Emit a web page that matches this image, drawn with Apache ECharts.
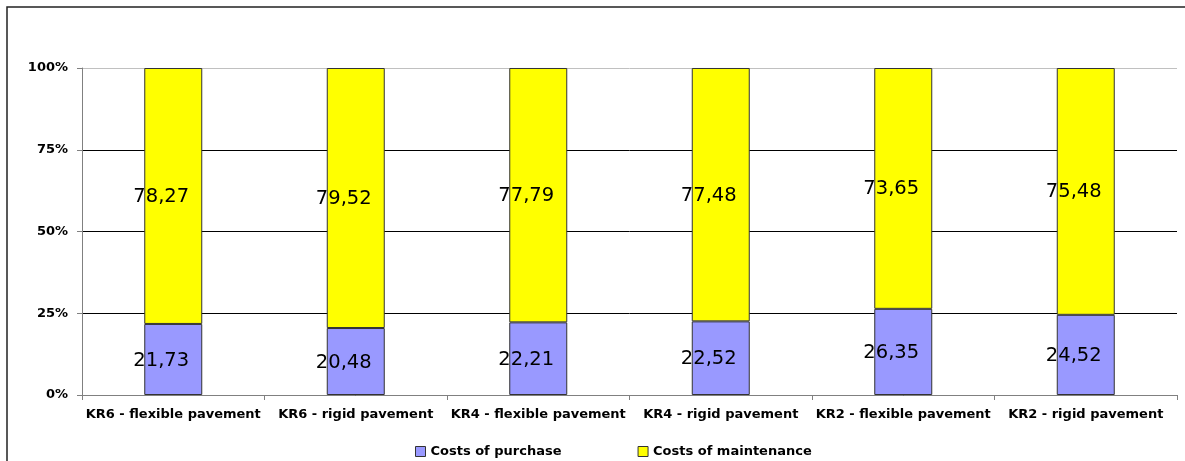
<!DOCTYPE html>
<html><head><meta charset="utf-8">
<script src="https://cdn.jsdelivr.net/npm/echarts@6/dist/echarts.min.js"></script>
<style>html,body{margin:0;padding:0;background:#fff}#c{width:1185px;height:461px}</style>
</head><body><div id="c"></div>
<script>
var categories = ["KR6 - flexible pavement","KR6 - rigid pavement","KR4 - flexible pavement","KR4 - rigid pavement","KR2 - flexible pavement","KR2 - rigid pavement"];
var purchase = [21.73,20.48,22.21,22.52,26.35,24.52];
var maintenance = [78.27,79.52,77.79,77.48,73.65,75.48];
var yTicks = [0,25,50,75,100];

var chart = echarts.init(document.getElementById('c'));
function fmt(p){return p.value.toFixed(2).replace('.',',');}
var FF = 'DejaVu Sans';
var lbl = {show:true,position:'inside',color:'#000',fontFamily:FF,fontSize:19.5,offset:[-12,1],formatter:fmt};
chart.setOption({
  animation:false,
  graphic:[{type:'rect',shape:{x:7,y:7,width:1300,height:600},style:{fill:'none',stroke:'#222',lineWidth:1.5},silent:true}],
  grid:{left:82,right:8,top:68,bottom:66},
  legend:{left:410,top:440,itemWidth:10,itemHeight:10,itemGap:76,icon:'rect',
    textStyle:{fontFamily:FF,fontWeight:'bold',fontSize:13,color:'#000'},
    data:[{name:'Costs of purchase',itemStyle:{borderColor:'#333',borderWidth:1}},{name:'Costs of maintenance',itemStyle:{borderColor:'#333',borderWidth:1}}]},
  xAxis:{type:'category',data:categories,
    axisLine:{lineStyle:{color:'#808080',width:1}},
    axisTick:{show:true,length:5,lineStyle:{color:'#808080'}},
    axisLabel:{color:'#000',fontFamily:FF,fontWeight:'bold',fontSize:13,margin:13,interval:0}},
  yAxis:{type:'value',min:0,max:100,interval:25,
    axisLine:{show:true,lineStyle:{color:'#808080'}},
    axisTick:{show:true,length:5,lineStyle:{color:'#808080'}},
    splitLine:{lineStyle:{color:['#000','#000','#000','#000','#c0c0c0'],width:1}},
    axisLabel:{color:'#000',fontFamily:FF,fontWeight:'bold',fontSize:13,margin:14,
      formatter:function(v){return yTicks.indexOf(v)>=0? v+'%':'';}}},
  series:[
    {name:'Costs of purchase',type:'bar',stack:'a',barWidth:58,data:purchase,
     itemStyle:{color:'#9999FF',borderColor:'#333',borderWidth:1},label:lbl},
    {name:'Costs of maintenance',type:'bar',stack:'a',barWidth:58,data:maintenance,
     itemStyle:{color:'#FFFF00',borderColor:'#333',borderWidth:1},label:lbl}
  ]
});
</script></body></html>
